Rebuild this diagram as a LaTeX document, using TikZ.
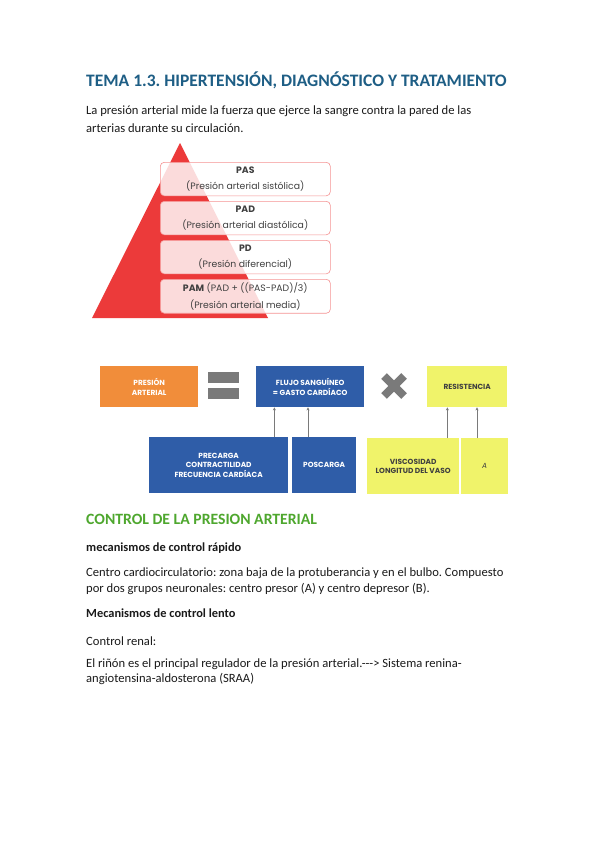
\documentclass[tikz,border=0pt]{standalone}
\usepackage{fontspec}
\setmainfont{Carlito}
\newfontfamily\gothic{Poppins}
\usepackage{tikz}
\usetikzlibrary{positioning, arrows.meta}
\frenchspacing

\definecolor{temablue}{HTML}{1E5E85}
\definecolor{ctrlgreen}{HTML}{4EA72E}
\definecolor{pyrred}{HTML}{EC3A3A}
\definecolor{boxorange}{HTML}{F18D3A}
\definecolor{boxblue}{HTML}{2F5DA8}
\definecolor{boxyellow}{HTML}{F0F36A}
\definecolor{signgray}{HTML}{7A7A7A}
\definecolor{bodytext}{HTML}{1A1A1A}

\begin{document}
\begin{tikzpicture}[
    x=1pt, y=-1pt,
    line/.style={anchor=base west, inner sep=0pt, text=bodytext, font=\fontsize{12.6}{14}\selectfont},
    head/.style={line, font=\fontsize{12.4}{14}\selectfont\bfseries},
    level/.style={rectangle, rounded corners=4pt, draw=pyrred!55, line width=0.6pt, fill=white, fill opacity=0.82, text opacity=1,
                  minimum width=170pt, minimum height=33.5pt, anchor=north west, align=center, text=black!75,
                  font=\gothic\fontsize{9.3}{16.8}\selectfont},
    factor/.style={rectangle, minimum height=41pt, anchor=north west, inner sep=0pt, align=center,
                   font=\gothic\bfseries\fontsize{7.4}{9.6}\selectfont},
    sub/.style={factor, minimum height=56pt},
    lift/.style={-{Stealth[length=3pt, width=3pt]}, signgray, line width=0.9pt},
]
  \useasboundingbox (0,0) rectangle (599,848);
  \fill[white] (0,0) rectangle (599,848);

  % title and intro
  \node[line, text=temablue, font=\fontsize{17.5}{19}\selectfont\bfseries] (title) at (86,87) {TEMA 1.3. HIPERTENSIÓN, DIAGNÓSTICO Y TRATAMIENTO};
  \node[line] (intro1) at (86,115) {La presión arterial mide la fuerza que ejerce la sangre contra la pared de las};
  \node[line] (intro2) at (86,132) {arterias durante su circulación.};

  % pyramid
  \fill[pyrred] (92,318) -- (180,143) -- (268,318) -- cycle;
  \node[level] (pas) at (160,162) {\textbf{PAS}\\(Presión arterial sistólica)};
  \node[level] (pad) at (160,201) {\textbf{PAD}\\(Presión arterial diastólica)};
  \node[level] (pd)  at (160,240) {\textbf{PD}\\(Presión diferencial)};
  \node[level] (pam) at (160,279) {\textbf{PAM} (PAD + ((PAS-PAD)/3)\\(Presión arterial media)};

  % presion = flujo x resistencia
  \node[factor, fill=boxorange, text=white, minimum width=98pt] (presion) at (100,366) {PRESIÓN\\ARTERIAL};
  \fill[signgray] (208,372) rectangle (239,383);
  \fill[signgray] (208,388) rectangle (239,399);
  \node[factor, fill=boxblue, text=white, minimum width=108pt] (flujo) at (256,366) {FLUJO SANGUÍNEO\\= GASTO CARDÍACO};
  \draw[signgray, line width=8pt] (384,376) -- (404,396) (384,396) -- (404,376);
  \node[factor, fill=boxyellow, text=black!75, minimum width=80pt] (resis) at (427,366) {RESISTENCIA};

  \node[sub, fill=boxblue, text=white, minimum width=139pt] (pre) at (149,437) {PRECARGA\\CONTRACTILIDAD\\FRECUENCIA CARDÍACA};
  \node[sub, fill=boxblue, text=white, minimum width=64pt] (pos) at (292,437) {POSCARGA};
  \node[sub, fill=boxyellow, text=black!75, minimum width=92pt] (visc) at (367,438) {VISCOSIDAD\\LONGITUD DEL VASO};
  \node[sub, fill=boxyellow, text=black!75, minimum width=47pt, font=\gothic\itshape\fontsize{7.4}{9}\selectfont] (radio) at (461,438) {A};

  \draw[lift] ([xshift=-14pt]pre.north east) -- ([xshift=-14pt]pre.north east |- flujo.south);
  \draw[lift] ([xshift=16pt]pos.north west) -- ([xshift=16pt]pos.north west |- flujo.south);
  \draw[lift] ([xshift=-12pt]visc.north east) -- ([xshift=-12pt]visc.north east |- resis.south);
  \draw[lift] ([xshift=16pt]radio.north west) -- ([xshift=16pt]radio.north west |- resis.south);

  % control de la presion
  \node[line, text=ctrlgreen, font=\fontsize{15.7}{17}\selectfont\bfseries] (control) at (86,524) {CONTROL DE LA PRESION ARTERIAL};
  \node[head] (rapido) at (86,551) {mecanismos de control rápido};
  \node[line] (centro1) at (86,576.5) {Centro cardiocirculatorio: zona baja de la protuberancia y en el bulbo. Compuesto};
  \node[line] (centro2) at (86,592) {por dos grupos neuronales: centro presor (A) y centro depresor (B).};
  \node[head] (lento) at (86,617) {Mecanismos de control lento};
  \node[line] (renal) at (86,645) {Control renal:};
  \node[line] (rinon1) at (86,667) {El riñón es el principal regulador de la presión arterial.-{}-{}-{}> Sistema renina-};
  \node[line] (rinon2) at (86,682.5) {angiotensina-aldosterona (SRAA)};
\end{tikzpicture}
\end{document}
